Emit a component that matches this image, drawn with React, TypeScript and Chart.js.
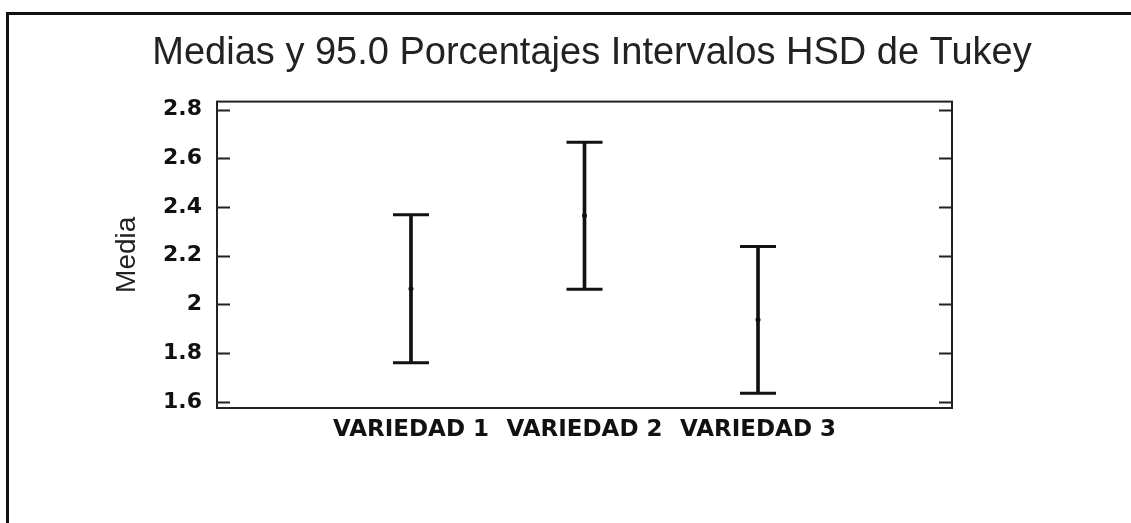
import React, { useEffect, useRef } from 'react';
import { Chart, registerables } from 'chart.js';

Chart.register(...registerables);

const categories = ['VARIEDAD 1', 'VARIEDAD 2', 'VARIEDAD 3'];
const positions = [1, 2, 3];
const means = [2.065, 2.365, 1.937];
const lower = [1.761, 2.063, 1.636];
const upper = [2.368, 2.666, 2.238];
const yTicks = [1.6, 1.8, 2.0, 2.2, 2.4, 2.6, 2.8];

const INK = '#111';
const Y_MIN = 1.575;
const Y_MAX = 2.833;

const framePlugin = {
  id: 'framePlugin',
  beforeDraw(chart: any) {
    const ctx = chart.ctx;
    ctx.save();
    ctx.fillStyle = '#fff';
    ctx.fillRect(0, 0, chart.width, chart.height);
    ctx.strokeStyle = INK;
    ctx.lineWidth = 3;
    ctx.beginPath();
    ctx.moveTo(6, 13.5);
    ctx.lineTo(chart.width, 13.5);
    ctx.moveTo(7.5, 12);
    ctx.lineTo(7.5, chart.height);
    ctx.stroke();
    ctx.restore();
  },
  beforeDatasetsDraw(chart: any) {
    const ctx = chart.ctx;
    const { left, right, top, bottom } = chart.chartArea;
    const y = chart.scales.y;
    ctx.save();
    ctx.strokeStyle = '#222';
    ctx.lineWidth = 2;
    ctx.strokeRect(left, top, right - left, bottom - top);
    ctx.beginPath();
    y.ticks.forEach((t: any) => {
      const py = Math.round(y.getPixelForValue(t.value)) + 0.5;
      ctx.moveTo(left, py);
      ctx.lineTo(left + 13, py);
      ctx.moveTo(right, py);
      ctx.lineTo(right - 13, py);
    });
    ctx.stroke();
    ctx.restore();
  },
};

export default function App() {
  const ref = useRef<HTMLCanvasElement | null>(null);

  useEffect(() => {
    if (!ref.current) return;
    const chart = new Chart(ref.current, {
      type: 'scatter',
      data: {
        datasets: [
          {
            type: 'bar',
            data: positions.map((x, i) => ({ x, y: [lower[i], upper[i]] })) as any,
            backgroundColor: INK,
            borderWidth: 0,
            barThickness: 3,
          } as any,
          {
            type: 'scatter',
            data: [
              ...positions.map((x, i) => ({ x, y: upper[i] })),
              ...positions.map((x, i) => ({ x, y: lower[i] })),
            ],
            pointStyle: 'line',
            pointRadius: 18,
            borderWidth: 3,
            borderColor: INK,
            backgroundColor: INK,
          },
          {
            type: 'scatter',
            data: positions.map((x, i) => ({ x, y: means[i] })),
            pointStyle: 'circle',
            pointRadius: 2.5,
            borderWidth: 0,
            backgroundColor: INK,
          },
        ],
      },
      options: {
        responsive: false,
        animation: false,
        events: [],
        layout: { padding: { left: 53, right: 0, top: 0, bottom: 0 } },
        plugins: {
          legend: { display: false },
          tooltip: { enabled: false },
          title: {
            display: true,
            text: 'Medias y 95.0 Porcentajes Intervalos HSD de Tukey',
            color: '#222',
            font: { family: "'Liberation Sans', Arial, sans-serif", size: 38, weight: 'normal' },
            padding: { top: 31, bottom: 25 },
          },
        },
        scales: {
          x: {
            type: 'linear',
            min: -0.118,
            max: 4.118,
            offset: false,
            grid: { display: false, drawTicks: false },
            border: { display: false },
            afterBuildTicks: (scale: any) => {
              scale.ticks = positions.map((v) => ({ value: v }));
            },
            afterFit: (scale: any) => {
              scale.height = 115;
            },
            ticks: {
              autoSkip: false,
              maxRotation: 0,
              minRotation: 0,
              padding: 8,
              color: INK,
              font: { family: "'DejaVu Sans', sans-serif", size: 23, weight: 'bold' },
              callback: (v: any) => {
                const i = positions.indexOf(Number(v));
                return i >= 0 ? categories[i] : '';
              },
            },
          },
          y: {
            type: 'linear',
            min: Y_MIN,
            max: Y_MAX,
            grid: { display: false, drawTicks: false },
            border: { display: false },
            afterBuildTicks: (scale: any) => {
              scale.ticks = yTicks.map((v) => ({ value: v }));
            },
            afterFit: (scale: any) => {
              scale.width = 164;
            },
            title: {
              display: true,
              text: 'Media',
              color: '#222',
              font: { family: "'Liberation Sans', Arial, sans-serif", size: 28, weight: 'normal' },
              padding: { top: 57, bottom: 0 },
            },
            ticks: {
              padding: 15,
              color: INK,
              font: { family: "'DejaVu Sans', sans-serif", size: 22, weight: 'bold' },
              callback: (v: any) => String(Number(v)),
            },
          },
          y2: {
            type: 'linear',
            position: 'right',
            min: Y_MIN,
            max: Y_MAX,
            grid: { display: false, drawTicks: false },
            border: { display: false },
            ticks: { display: false },
            afterFit: (scale: any) => {
              scale.width = 179;
            },
          },
        },
      },
      plugins: [framePlugin],
    });
    return () => chart.destroy();
  }, []);

  return (
    <div style={{ position: 'fixed', left: 0, top: 0, width: 1131, height: 523, background: '#fff' }}>
      <canvas ref={ref} width={1131} height={523} style={{ display: 'block', width: 1131, height: 523 }} />
    </div>
  );
}
